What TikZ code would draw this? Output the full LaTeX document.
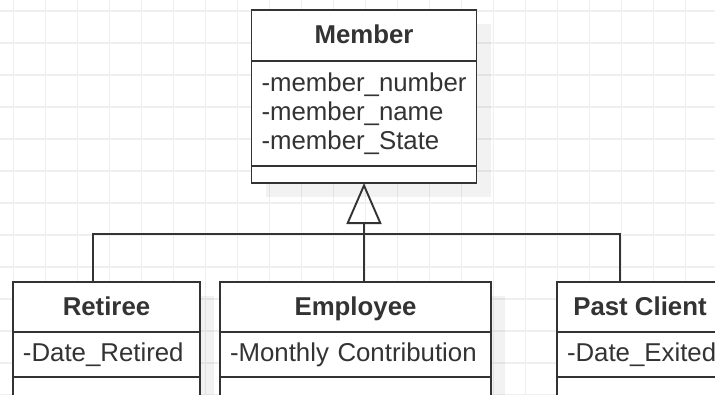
\documentclass[tikz,border=0pt]{standalone}
\usepackage{fontspec}
\setmainfont{Liberation Sans}
\usepackage{tikz}
\usetikzlibrary{arrows.meta,positioning,shadows}
\definecolor{umlline}{HTML}{333333}
\definecolor{gridcol}{HTML}{EFEFEF}
\newcommand\attrfont{\fontsize{25.8}{29}\selectfont\exhyphenpenalty=10000\relax\hbadness=10000\relax}

\begin{document}
\begin{tikzpicture}[x=1pt,y=-1pt,>=Stealth, node distance=0pt]
  \tikzset{
    part/.style={draw=umlline, line width=1.9pt, fill=white, outer sep=0pt, inner sep=0pt,
      text=umlline, font=\fontsize{25.8}{29}\selectfont,
      drop shadow={shadow xshift=14pt, shadow yshift=-14pt, fill=black, opacity=0.05}},
    head/.style={part, font=\fontsize{25.8}{29}\selectfont\bfseries, text height=18pt, text depth=2pt},
    attrs/.style={part, align=left, inner xsep=10pt, font=\attrfont},
    ops/.style={part},
    bus/.style={draw=umlline, line width=1.9pt},
    inherit/.style={bus, -{Triangle[open, length=41pt, width=35pt]}},
    gridline/.style={draw=gridcol, line width=1.2pt}
  }
  \path[use as bounding box] (0,0) rectangle (715,394);
  \clip (0,0) rectangle (715,394);
  % background grid
  \foreach \gx in {0,...,22}
    \draw[gridline] ({13.3+32*\gx},0) -- ({13.3+32*\gx},394);
  \foreach \gy in {0,...,12}
    \draw[gridline] (0,{11+32*\gy}) -- (715,{11+32*\gy});
  % parent class
  \node[head, minimum width=225pt, minimum height=51pt] (memberHead) at (364,35.5) {Member};
  \node[attrs, text width=205pt, minimum height=105pt, below=of memberHead] (memberAttr)
    {-member\_number\\-member\_name\\-member\_State};
  \node[ops, minimum width=225pt, minimum height=17pt, below=of memberAttr] (memberOps) {};
  % subclasses
  \node[head, minimum width=187pt, minimum height=50pt] (retireeHead) at (106.5,307) {Retiree};
  \node[attrs, text width=167pt, minimum height=45pt, below=of retireeHead] (retireeAttr) {-Date\_Retired};
  \node[ops, minimum width=187pt, minimum height=30pt, below=of retireeAttr] (retireeOps) {};
  \node[head, minimum width=271pt, minimum height=50pt] (employeeHead) at (355.5,307) {Employee};
  \node[attrs, text width=251pt, minimum height=45pt, below=of employeeHead] (employeeAttr) {-Monthly Contribution};
  \node[ops, minimum width=271pt, minimum height=30pt, below=of employeeAttr] (employeeOps) {};
  \node[head, minimum width=166pt, minimum height=50pt] (pastHead) at (640,307) {Past Client};
  \node[attrs, text width=146pt, minimum height=45pt, below=of pastHead] (pastAttr) {-Date\_Exited};
  \node[ops, minimum width=166pt, minimum height=30pt, below=of pastAttr] (pastOps) {};
  % generalisation
  \coordinate[below=51pt of memberOps.south] (busMid);
  \draw[bus] ([xshift=-13.5pt]retireeHead.north) |- (busMid) -| ([xshift=-20pt]pastHead.north);
  \draw[inherit] (memberOps.south |- employeeHead.north) -- (memberOps.south);
\end{tikzpicture}
\end{document}
